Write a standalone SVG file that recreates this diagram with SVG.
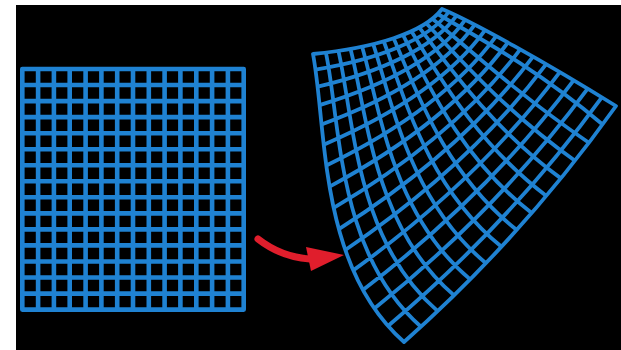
<svg xmlns="http://www.w3.org/2000/svg" width="621" height="350" viewBox="0 0 621 350">
<style>
.grid{fill:none;stroke:#1f82d2;stroke-linejoin:round}
.g1{stroke-width:4.6}
.g2{stroke-width:3.8}
.arrow-body{fill:none;stroke:#e01e2c;stroke-width:7;stroke-linecap:round}
.arrow-head{fill:#e01e2c}
</style>
<rect x="0" y="0" width="621" height="350" fill="#ffffff"/>
<rect x="16" y="5" width="605" height="345" fill="#000000"/>
<g id="source-grid">
<rect class="grid g1" x="22.3" y="69" width="221.4" height="240.6"/>
<path class="grid g1" d="M38.1,69V309.6M53.9,69V309.6M69.7,69V309.6M85.6,69V309.6M101.4,69V309.6M117.2,69V309.6M133,69V309.6M148.8,69V309.6M164.6,69V309.6M180.4,69V309.6M196.3,69V309.6M212.1,69V309.6M227.9,69V309.6
M22.3,85H243.7M22.3,101.1H243.7M22.3,117.1H243.7M22.3,133.2H243.7M22.3,149.2H243.7M22.3,165.2H243.7M22.3,181.3H243.7M22.3,197.3H243.7M22.3,213.4H243.7M22.3,229.4H243.7M22.3,245.4H243.7M22.3,261.5H243.7M22.3,277.5H243.7M22.3,293.6H243.7"/>
</g>
<g id="warped-grid">
<path class="grid g2" d="M313,54C374,48 424,33 442,9C473,22 545,62 616,106C554,193 484,271 404,342C318,266 327,128 313,54Z"/>
<path class="grid g2" d="M315.5,69.6C377.4,59.3 428.3,40.1 448.7,12
M317.7,86.7C380.8,71.8 433,48.2 456.5,15.6
M319.6,105.1C384.4,85.4 438.4,57.1 465.2,19.9
M321.5,124.5C388.3,99.9 444.3,66.8 474.8,24.7
M323.7,144.7C392.6,115.1 450.9,77.1 485.1,30.2
M326.3,165.5C397.5,130.8 458,88 496.2,36.1
M329.6,186.6C403,147 465.9,99.2 507.9,42.5
M333.7,207.9C409.2,163.3 474.3,110.8 520.2,49.4
M338.9,229.1C416.4,179.8 483.5,122.7 533,56.6
M345.3,250C424.5,196.2 493.4,134.7 546.2,64.2
M353.2,270.4C433.7,212.3 504,146.7 559.8,72.1
M362.9,290C444.2,228 515.3,158.6 573.6,80.3
M374.4,308.6C456,243.1 527.4,170.4 587.7,88.7
M388,326C469.2,257.5 540.3,181.9 601.8,97.3
M325.9,52.6C340.5,122.1 336.7,253.1 421,326.7
M338.4,50.9C353.6,116 355,239.9 437.7,311.1
M350.5,48.9C366.4,109.6 373,226.4 454.1,295.4
M362.1,46.7C378.8,103 390.7,212.8 470.2,279.4
M373.2,44.1C390.7,96.1 408,198.8 486,263.2
M383.7,41.3C402.1,88.9 424.9,184.7 501.5,246.7
M393.6,38.3C413,81.5 441.4,170.3 516.8,230
M402.9,34.9C423.4,73.8 457.5,155.6 531.7,213.1
M411.4,31.3C433.2,65.9 473.2,140.6 546.4,195.9
M419.2,27.4C442.5,57.6 488.5,125.5 560.9,178.4
M426.2,23.2C451.1,49.1 503.3,110 575,160.7
M432.4,18.7C459.1,40.4 517.7,94.3 588.9,142.7
M437.7,14C466.4,31.3 531.6,64.3 602.6,124.5"/>
</g>
<g id="connectors">
<path class="arrow-body" d="M258,239Q281,257 310,259"/>
<path class="arrow-head" d="M306,247L344,255L311,271Z"/>
</g>
</svg>
